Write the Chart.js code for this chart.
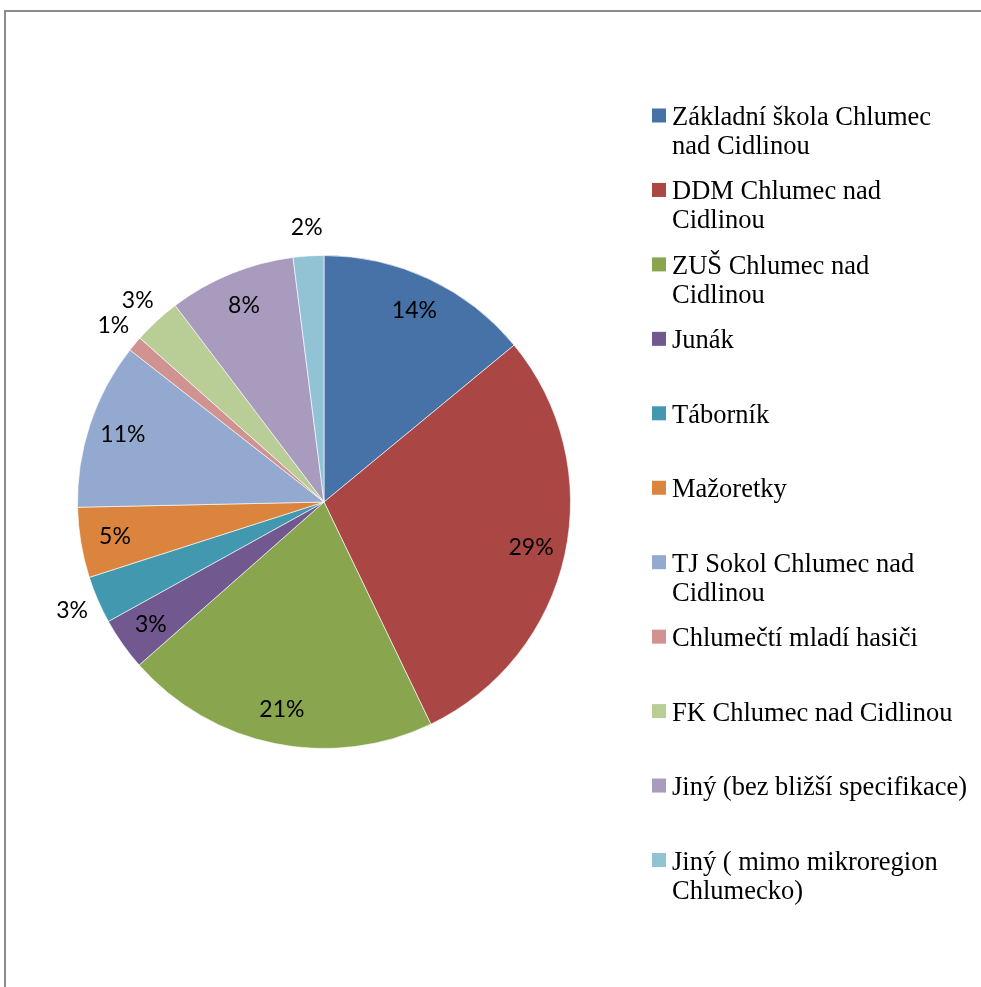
<!DOCTYPE html>
<html>
<head>
  <meta charset="UTF-8">
  <title>Chlumecko - volnočasové organizace</title>
  <script src="https://cdn.jsdelivr.net/npm/chart.js"></script>
  <style>
    body {
      margin: 0;
      background: white;
      overflow: hidden;
    }
    canvas {
      display: block;
    }
  </style>
</head>
<body>
  <canvas id="pieChart" width="981" height="987"></canvas>

  <script>
    // kategorie (rozdělené na řádky jako v legendě)
    const categories = [
      ['Základní škola Chlumec', 'nad Cidlinou'],
      ['DDM Chlumec nad', 'Cidlinou'],
      ['ZUŠ Chlumec nad', 'Cidlinou'],
      ['Junák'],
      ['Táborník'],
      ['Mažoretky'],
      ['TJ Sokol Chlumec nad', 'Cidlinou'],
      ['Chlumečtí mladí hasiči'],
      ['FK Chlumec nad Cidlinou'],
      ['Jiný (bez bližší specifikace)'],
      ['Jiný ( mimo mikroregion', 'Chlumecko)']
    ];

    // podíly (%)
    const shares = [14.0, 28.8, 20.6, 3.45, 3.1, 4.6, 10.9, 1.0, 3.1, 8.3, 2.0];

    const colors = ['#4672a8', '#aa4644', '#89a54e', '#71598f', '#4198af', '#db843d',
                    '#93a9cf', '#d19392', '#b9cd97', '#a99bbe', '#92c3d5'];

    const total = shares.reduce((a, b) => a + b, 0);

    const percentLabels = {
      id: 'percentLabels',
      afterDatasetsDraw(chart) {
        const ctx = chart.ctx;
        const meta = chart.getDatasetMeta(0);
        ctx.save();
        ctx.font = '23px Lato';
        ctx.fillStyle = '#000';
        ctx.textAlign = 'center';
        ctx.textBaseline = 'middle';
        meta.data.forEach((arc, i) => {
          const p = arc.getProps(['startAngle', 'endAngle', 'outerRadius', 'x', 'y'], true);
          const mid = (p.startAngle + p.endAngle) / 2;
          const pct = shares[i] / total * 100;
          // malé výseče mají popisek venku
          const r = pct < 3.3 ? p.outerRadius + 28 : p.outerRadius * 0.86;
          const x = p.x + Math.cos(mid) * r;
          const y = p.y + Math.sin(mid) * r;
          ctx.fillText(Math.round(pct) + '%', x, y);
        });
        ctx.restore();
      }
    };

    const sideLegend = {
      id: 'sideLegend',
      beforeDraw(chart) {
        const ctx = chart.ctx;
        ctx.save();
        ctx.strokeStyle = '#8a8a8a';
        ctx.lineWidth = 2;
        ctx.beginPath();
        ctx.moveTo(5, 987);
        ctx.lineTo(5, 11);
        ctx.lineTo(981, 11);
        ctx.stroke();
        ctx.restore();
      },
      afterDraw(chart) {
        const ctx = chart.ctx;
        const top = 115.5, step = 74.45, lineH = 29;
        ctx.save();
        ctx.font = '26.5px "Liberation Serif"';
        ctx.textAlign = 'left';
        ctx.textBaseline = 'alphabetic';
        categories.forEach((lines, i) => {
          const cy = top + i * step;
          ctx.fillStyle = colors[i];
          ctx.fillRect(652, cy - 7, 14, 14);
          ctx.fillStyle = '#000';
          lines.forEach((line, j) => {
            ctx.fillText(line, 672, cy + 9.5 + j * lineH);
          });
        });
        ctx.restore();
      }
    };

    new Chart(document.getElementById('pieChart'), {
      type: 'pie',
      data: {
        labels: categories.map(l => l.join(' ')),
        datasets: [{
          data: shares,
          backgroundColor: colors,
          borderColor: 'rgba(255,255,255,0.6)',
          borderWidth: 1
        }]
      },
      options: {
        responsive: false,
        animation: false,
        layout: {
          padding: { left: 77, right: 410, top: 255, bottom: 238 }
        },
        plugins: {
          legend: { display: false },
          tooltip: { enabled: false }
        }
      },
      plugins: [percentLabels, sideLegend]
    });
  </script>
</body>
</html>
